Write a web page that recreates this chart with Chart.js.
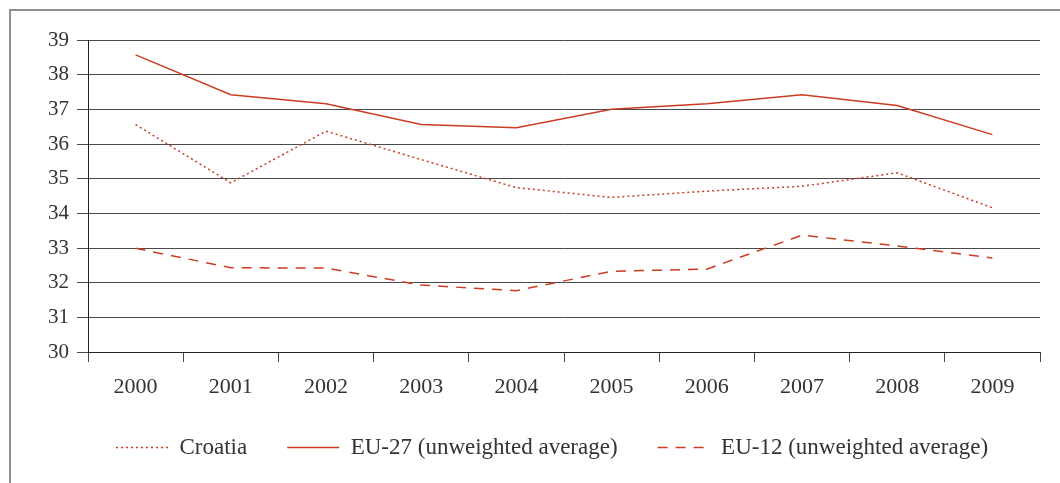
<!DOCTYPE html>
<html>
<head>
<meta charset="utf-8">
<script src="https://cdn.jsdelivr.net/npm/chart.js@4/dist/chart.umd.min.js"></script>
<style>
    html, body { margin: 0; padding: 0; background: #fff; overflow: hidden; }
    .frame {
        position: absolute; left: 9px; top: 9px; width: 1100px; height: 520px;
        border: 2px solid #8f8f8f;
    }
    .wrap { position: absolute; left: 0; top: 0; width: 1060px; height: 483px; }
</style>
</head>
<body>
<div class="frame"></div>
<div class="wrap"><canvas id="chart" width="1060" height="483"></canvas></div>
<script>
// data
let years = ["2000", "2001", "2002", "2003", "2004", "2005", "2006", "2007", "2008", "2009"];
let croatia = [36.56, 34.88, 36.37, 35.55, 34.74, 34.46, 34.64, 34.78, 35.17, 34.16];
let eu27 = [38.57, 37.42, 37.16, 36.56, 36.47, 37.00, 37.16, 37.42, 37.11, 36.27];
let eu12 = [32.99, 32.43, 32.42, 31.93, 31.77, 32.33, 32.39, 33.37, 33.06, 32.71];

lineColor = "#cc3b22";
textColor = "#333333";
fontFamily = "'Liberation Serif', 'DejaVu Serif', serif";

// nudge the legend right a bit, the original is not centred on the canvas
let legendShift = {
    id: 'legendShift',
    afterLayout: function (chart) {
        chart.legend.left += 27;
        chart.legend.right += 27;
    }
};

ctx = document.getElementById('chart').getContext('2d');
var myChart = new Chart(ctx, {
    type: 'line',
    data: {
        labels: years,
        datasets: [{
            label: "Croatia",
            data: croatia,
            borderColor: lineColor,
            borderWidth: 1.5,
            borderDash: [2, 3],
            pointRadius: 0,
            tension: 0
        }, {
            label: "EU-27 (unweighted average)",
            data: eu27,
            borderColor: lineColor,
            borderWidth: 1.5,
            pointRadius: 0,
            tension: 0
        }, {
            label: "EU-12 (unweighted average)",
            data: eu12,
            borderColor: lineColor,
            borderWidth: 1.5,
            borderDash: [10, 8],
            pointRadius: 0,
            tension: 0
        }]
    },
    options: {
        responsive: false,
        animation: false,
        layout: {
            padding: { left: 10, right: 20, top: 40, bottom: 14 }
        },
        scales: {
            x: {
                offset: true,
                grid: {
                    offset: true,
                    drawOnChartArea: false,
                    drawTicks: true,
                    tickLength: 10,
                    color: "#444"
                },
                border: { color: "#222", width: 1 },
                ticks: {
                    color: textColor,
                    font: { family: fontFamily, size: 22 },
                    padding: 12,
                    maxRotation: 0
                },
                afterFit: function (scale) { scale.height = 44; }
            },
            y: {
                min: 30,
                max: 39,
                grid: {
                    color: "#4a4a4a",
                    lineWidth: 1,
                    tickLength: 11
                },
                border: { color: "#222", width: 1 },
                ticks: {
                    stepSize: 1,
                    color: textColor,
                    font: { family: fontFamily, size: 21 },
                    padding: 8
                },
                afterFit: function (scale) { scale.width = 78; }
            }
        },
        plugins: {
            legend: {
                position: 'bottom',
                labels: {
                    usePointStyle: true,
                    pointStyle: 'line',
                    pointStyleWidth: 52,
                    boxHeight: 20,
                    padding: 40,
                    color: textColor,
                    font: { family: fontFamily, size: 23 },
                    generateLabels: function (chart) {
                        let items = Chart.defaults.plugins.legend.labels.generateLabels(chart);
                        items.forEach(function (item) {
                            item.lineDash = chart.data.datasets[item.datasetIndex].borderDash || [];
                            item.lineWidth = 1.5;
                        });
                        return items;
                    }
                }
            },
            tooltip: { enabled: false }
        }
    },
    plugins: [legendShift]
});
</script>
</body>
</html>
